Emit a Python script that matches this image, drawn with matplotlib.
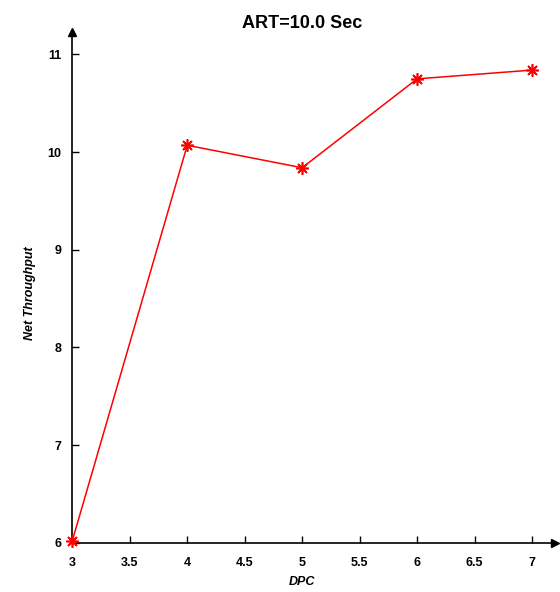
import matplotlib
matplotlib.use("Agg")
import matplotlib.pyplot as plt

# data
dpc = [3, 4, 5, 6, 7]
throughput = [6.02, 10.07, 9.84, 10.75, 10.84]
x_ticks = [3, 3.5, 4, 4.5, 5, 5.5, 6, 6.5, 7]
y_ticks = [6, 7, 8, 9, 10, 11]

plt.rcParams['font.family'] = ['Liberation Sans', 'DejaVu Sans']
plt.rcParams['font.weight'] = 'bold'

fig = plt.figure(figsize=(5.6, 5.92), dpi=100)
ax = fig.add_axes([72.3 / 560, 49.3 / 592, (555 - 72.3) / 560, (542.7 - 32) / 592])

# MATLAB-style asterisk marker
ax.plot(dpc, throughput, color='red', linewidth=1.1, marker=(8, 2, 0),
        markersize=9, markeredgewidth=1.2, clip_on=False, zorder=3)

ax.set_xlim(3, 7.2)
ax.set_ylim(6, 11.23)
ax.set_xticks(x_ticks)
ax.set_xticklabels([str(v) for v in x_ticks])
ax.set_yticks(y_ticks)
ax.tick_params(direction='in', length=5, width=1, labelsize=9)
ax.tick_params(axis='x', pad=10)
ax.tick_params(axis='y', pad=8)

for s in ['top', 'right']:
    ax.spines[s].set_visible(False)
ax.spines['left'].set_linewidth(1.2)
ax.spines['bottom'].set_linewidth(1.2)

# arrow heads on the axes
ax.plot(1, 0, '>k', markersize=6, transform=ax.transAxes, clip_on=False)
ax.plot(0, 1, '^k', markersize=6, transform=ax.transAxes, clip_on=False)

fig.text(302 / 560, 1 - 24 / 592, 'ART=10.0 Sec', ha='center', va='center',
         fontsize=13, fontweight='bold')
fig.text(302 / 560, 1 - 582 / 592, 'DPC', ha='center', va='center',
         fontsize=9, fontweight='bold', style='italic')
fig.text(30 / 560, 1 - 293 / 592, 'Net Throughput', ha='center', va='center',
         rotation=90, fontsize=9, fontweight='bold', style='italic')

fig.savefig('out.png', dpi=100, facecolor='white')
